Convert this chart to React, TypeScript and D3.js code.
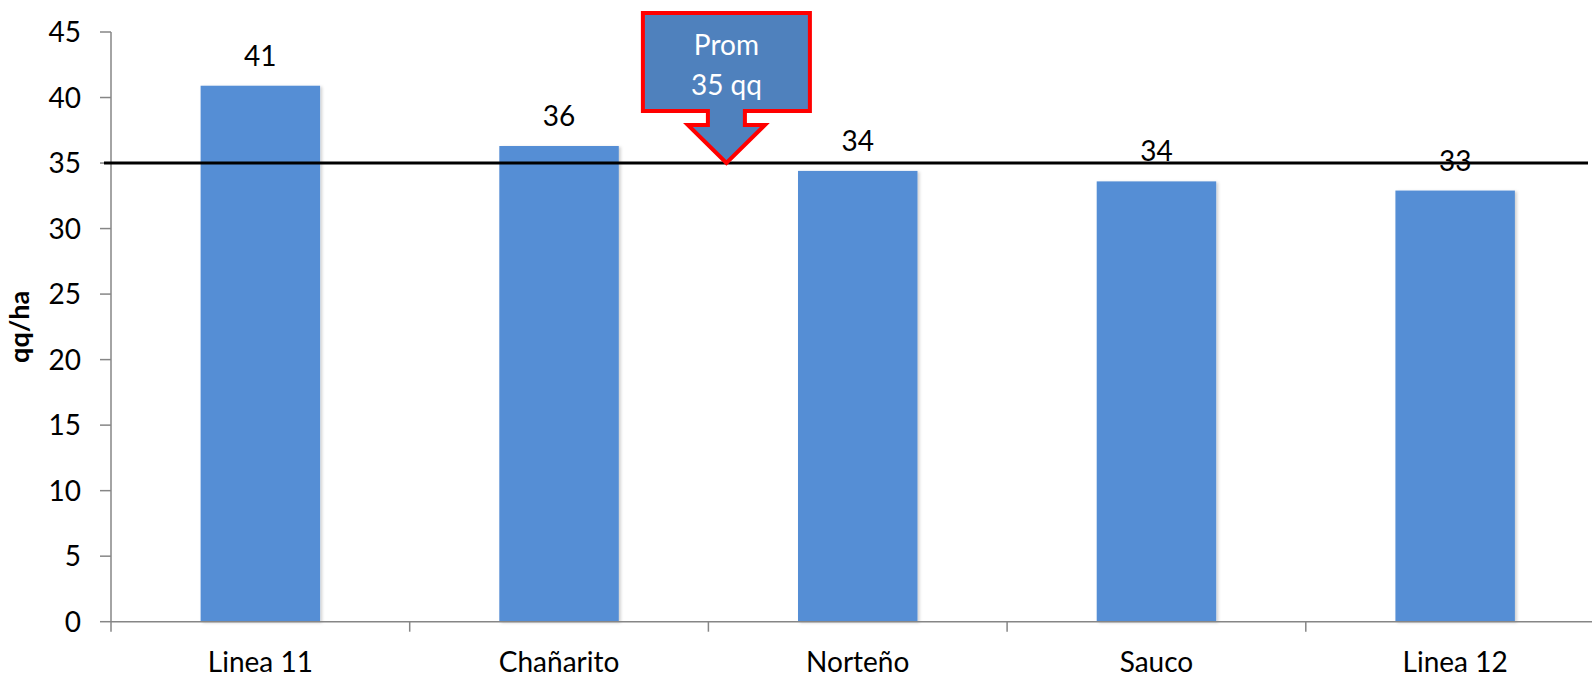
import React from 'react';
import * as d3 from 'd3';

const categories = ['Linea 11', 'Chañarito', 'Norteño', 'Sauco', 'Linea 12'];
const yields = [40.9, 36.3, 34.4, 33.6, 32.9];
const yTicks = [0, 5, 10, 15, 20, 25, 30, 35, 40, 45];
const average = 35;
const calloutLines = ['Prom', '35 qq'];

const W = 1592;
const H = 676;
const FONT = 'Lato, "Open Sans", sans-serif';

const App: React.FC = () => {
  const left = 111;
  const step = 298.7;
  const x = d3
    .scaleBand<string>()
    .domain(categories)
    .range([left, left + step * categories.length])
    .padding(0);
  const y = d3.scaleLinear().domain([0, 45]).range([621.7, 32]);

  const barW = x.bandwidth() * 0.4;
  const axisColor = '#868686';

  // callout arrow, tip sits on the average line
  const tipX = (x('Norteño') as number) + 18;
  const tipY = y(average);
  const bodyW = 167;
  const bodyTop = 13;
  const bodyBottom = 111;
  const stemHalf = 18.5;
  const headHalf = 38.5;
  const headTop = 125;
  const calloutPath = [
    [tipX - bodyW / 2, bodyTop],
    [tipX + bodyW / 2, bodyTop],
    [tipX + bodyW / 2, bodyBottom],
    [tipX + stemHalf, bodyBottom],
    [tipX + stemHalf, headTop],
    [tipX + headHalf, headTop],
    [tipX, tipY],
    [tipX - headHalf, headTop],
    [tipX - stemHalf, headTop],
    [tipX - stemHalf, bodyBottom],
    [tipX - bodyW / 2, bodyBottom],
  ];
  const line = d3.line();

  const boundaries = categories.map((c) => x(c) as number);

  return (
    <svg
      width={W}
      height={H}
      style={{ position: 'absolute', left: 0, top: 0, background: '#fff' }}
      fontFamily={FONT}
    >
      <defs>
        <filter id="shadow" x="-10%" y="-10%" width="130%" height="120%">
          <feDropShadow dx="2" dy="1" stdDeviation="1.5" floodColor="#000" floodOpacity="0.18" />
        </filter>
      </defs>

      {/* bars */}
      {categories.map((c, i) => {
        const cx = (x(c) as number) + x.bandwidth() / 2;
        return (
          <g key={c}>
            <rect
              x={cx - barW / 2}
              y={y(yields[i])}
              width={barW}
              height={y(0) - y(yields[i])}
              fill="#558ED5"
              filter="url(#shadow)"
            />
            <text
              x={cx}
              y={y(yields[i]) - 20}
              textAnchor="middle"
              fontSize={28}
              fill="#000"
            >
              {Math.round(yields[i])}
            </text>
            <text x={cx} y={672} textAnchor="middle" fontSize={28} fill="#000">
              {c}
            </text>
          </g>
        );
      })}

      {/* y axis */}
      <line x1={left} x2={left} y1={y(45)} y2={y(0)} stroke={axisColor} strokeWidth={1.5} />
      {yTicks.map((t) => (
        <g key={t}>
          <line x1={left - 11} x2={left} y1={y(t)} y2={y(t)} stroke={axisColor} strokeWidth={1.5} />
          <text x={81} y={y(t) + 10} textAnchor="end" fontSize={28} fill="#000">
            {t}
          </text>
        </g>
      ))}

      {/* x axis */}
      <line x1={left} x2={W} y1={y(0)} y2={y(0)} stroke={axisColor} strokeWidth={1.5} />
      {boundaries.map((b, i) => (
        <line key={i} x1={b} x2={b} y1={y(0)} y2={y(0) + 10} stroke={axisColor} strokeWidth={1.5} />
      ))}

      <text
        transform={`translate(29, ${(y(0) + y(45)) / 2}) rotate(-90)`}
        textAnchor="middle"
        fontSize={27}
        fontWeight="bold"
        fill="#000"
      >
        qq/ha
      </text>

      {/* average line */}
      <line x1={104} x2={1588} y1={y(average)} y2={y(average)} stroke="#000" strokeWidth={3} />

      {/* callout */}
      <path
        d={line(calloutPath as [number, number][]) + 'Z'}
        fill="#4F81BD"
        stroke="#FF0000"
        strokeWidth={4}
        strokeLinejoin="miter"
      />
      {calloutLines.map((t, i) => (
        <text key={t} x={tipX} y={55 + i * 40} textAnchor="middle" fontSize={28} fill="#fff">
          {t}
        </text>
      ))}
    </svg>
  );
};

export default App;
